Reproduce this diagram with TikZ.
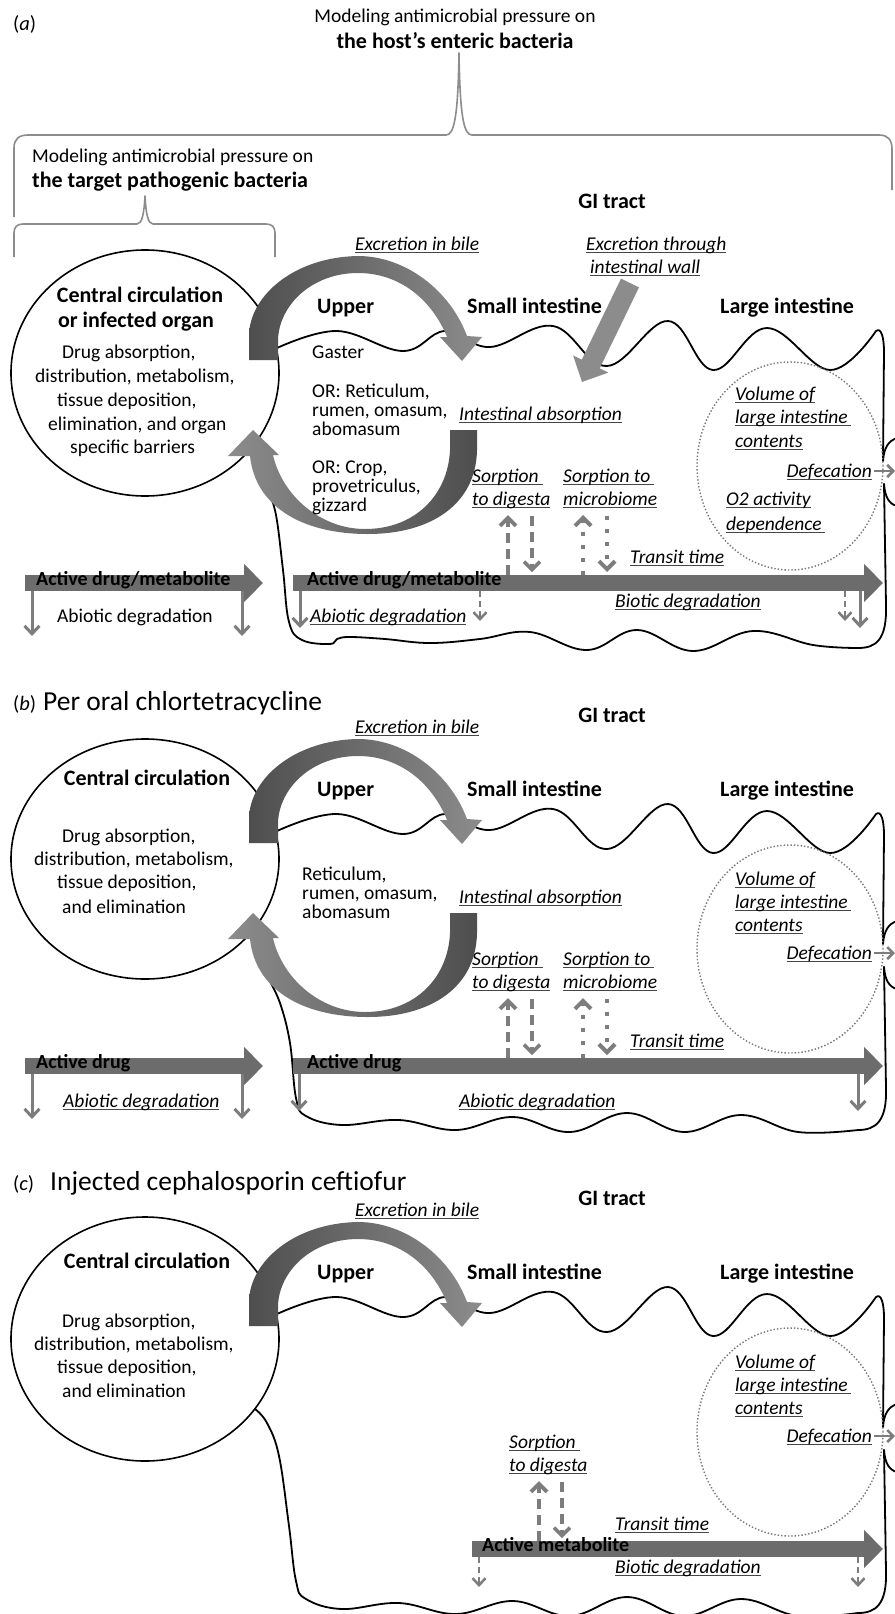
\documentclass[tikz,border=0pt]{standalone}
\usepackage{fontspec}
\setmainfont{Carlito}
\usetikzlibrary{arrows.meta}
\definecolor{bargray}{RGB}{108,108,108}
\definecolor{arrgray}{RGB}{125,125,125}
\definecolor{arcdark}{RGB}{78,78,78}
\definecolor{arclight}{RGB}{140,140,140}
\definecolor{wallgray}{RGB}{140,140,140}
\definecolor{bracegray}{RGB}{140,140,140}
\definecolor{ulgray}{RGB}{70,70,70}
\definecolor{dotgray}{RGB}{120,120,120}
\newcommand\ulx[1]{\sbox0{#1}\rlap{\textcolor{ulgray}{\rule[-3.2pt]{\wd0}{1.3pt}}}\usebox0}
\tikzset{
 lbl/.style={inner sep=0pt, anchor=base west, font=\fontsize{19.5}{23}\selectfont\itshape},
 txt/.style={inner sep=0pt, anchor=base west, font=\fontsize{19.5}{23}\selectfont},
 ctxt/.style={inner sep=0pt, anchor=base, font=\fontsize{19.5}{23}\selectfont},
 hd/.style={inner sep=0pt, anchor=base west, font=\fontsize{22}{26}\selectfont\bfseries},
 chd/.style={inner sep=0pt, anchor=base, font=\fontsize{22}{26}\selectfont\bfseries},
 tagtxt/.style={inner sep=0pt, anchor=base west, font=\fontsize{20.5}{24}\selectfont},
 ptitle/.style={inner sep=0pt, anchor=base west, font=\fontsize{27.5}{32}\selectfont},
 bartxt/.style={inner sep=0pt, anchor=base west, font=\fontsize{20}{24}\selectfont\bfseries, text=black},
 gi/.style={draw=black, line width=1.8pt, line join=round, line cap=round},
 bigbar/.style={draw=bargray, line width=16pt, -{Triangle[length=19pt,width=37pt]}},
 degsolid/.style={draw=arrgray, line width=3pt, -{Straight Barb[length=8pt,width=15pt]}},
 degdash/.style={draw=arrgray, line width=2.5pt, dash pattern=on 6pt off 4pt, -{Straight Barb[length=7pt,width=13pt]}},
 sorpdash/.style={draw=arrgray, line width=4pt, dash pattern=on 10pt off 6pt, -{Straight Barb[length=8pt,width=16pt]}},
 sorpdot/.style={draw=arrgray, line width=4pt, dash pattern=on 4pt off 9pt, -{Straight Barb[length=8pt,width=16pt]}},
 defarrow/.style={draw=arrgray, line width=2.5pt, -{Straight Barb[length=6pt,width=12pt]}},
 bracepath/.style={draw=bracegray, line width=1.6pt, line join=round},
 dotell/.style={draw=dotgray, line width=1.4pt, dash pattern=on 1.4pt off 2pt},
 circ/.style={draw=black, line width=1.6pt},
}
\newcommand\upperarc{%
 \shade[left color=arcdark, right color=arclight]
  (249,360) -- (249,335) .. controls (250,295) and (295,257) .. (358,256)
  .. controls (405,256) and (450,290) .. (467,336) -- (482,337) -- (462,361) -- (440,337) -- (447,337)
  .. controls (432,300) and (400,273) .. (358,273) .. controls (312,273) and (279,305) .. (278,340)
  -- (278,360) -- cycle;}
\newcommand\lowerarc{%
 \shade[left color=arclight, right color=arcdark]
  (477,430) -- (477,450) .. controls (476,505) and (430,534) .. (368,534)
  .. controls (300,534) and (255,505) .. (250,456) -- (228,456) -- (253,430) -- (279,455) -- (273,455)
  .. controls (282,495) and (320,529) .. (365,529) .. controls (415,529) and (448,495) .. (450,450)
  -- (450,430) -- cycle;}
\newcommand\topwave{%
 \draw[gi] plot[smooth,tension=0.65] coordinates {(277,348) (337,331) (403,351) (445,331) (490,347) (553,326) (607,366) (668,321) (713,370) (767,328) (830,370) (876,331)}
  .. controls (881,327) and (884,337) .. (884,352) -- (883,461);
 \draw[gi] (883,461) .. controls (884,448) and (888,441) .. (897,438);
 \draw[gi] (884,484) .. controls (885,497) and (889,504) .. (897,506);}
\begin{document}
\begin{tikzpicture}[x=1pt,y=-1pt]
\useasboundingbox (0,0) rectangle (894,1614);
\fill[white] (0,0) rectangle (894,1614);

% ================= panel (a) =================
\begin{scope}
\node[tagtxt] (a-tag) at (13,30) {(\textit{a})};
\node[ctxt] (a-t1) at (455,22) {Modeling antimicrobial pressure on};
\node[chd] (a-t2) at (455,48) {the host’s enteric bacteria};
\draw[bracepath] (14,217) -- (14,148) .. controls (14,139) and (19,135) .. (28,135) -- (446,135)
  .. controls (454,135) and (458,118) .. (459,53) .. controls (460,118) and (464,135) .. (472,135)
  -- (879,135) .. controls (888,135) and (892,140) .. (892,149) -- (892,190);
\node[txt] (a-t3) at (32,162) {Modeling antimicrobial pressure on};
\node[hd] (a-t4) at (32,187) {the target pathogenic bacteria};
\draw[bracepath] (14,257) -- (14,233) .. controls (14,227) and (17,224) .. (23,224) -- (137,224)
  .. controls (142,224) and (144,214) .. (145,196) .. controls (146,214) and (148,224) .. (153,224)
  -- (266,224) .. controls (272,224) and (275,227) .. (275,233) -- (275,257);
\node[chd] (a-gi) at (612,208) {GI tract};

\topwave
\draw[gi] (884,484) -- (886,605) .. controls (887,640) and (876,648) .. (858,648)
  -- plot[smooth,tension=0.65] coordinates {(858,648) (813,645) (753,631) (693,651) (637,630) (587,650) (530,632) (480,639) (430,643) (385,639) (350,637) (337,639) (330,644) (302,640) (289,622) (283,570) (276,515) (268,490)};
\draw[circ] (145,373) ellipse [x radius=134pt, y radius=123pt];
\draw[dotell] (790,466) ellipse [x radius=93pt, y radius=104pt];
\upperarc
\lowerarc
\draw[draw=wallgray, line width=20pt, -{Triangle[length=20pt,width=38pt]}] (630,283) -- (582,382);

\node[chd] (a-c1) at (140,302) {Central circulation};
\node[chd] (a-c2) at (136,327) {or infected organ};
\node[txt] (a-c3) at (62,358) {Drug absorption,};
\node[txt] (a-c4) at (35,382) {distribution, metabolism,};
\node[txt] (a-c5) at (57,406) {tissue deposition,};
\node[txt] (a-c6) at (48,430) {elimination, and organ};
\node[txt] (a-c7) at (70,453) {specific barriers};

\node[hd] (a-upper) at (317,313) {Upper};
\node[txt] (a-g1) at (312,358) {Gaster};
\node[txt] (a-g2) at (312,397) {OR: Reticulum,};
\node[txt] (a-g3) at (312,416) {rumen, omasum,};
\node[txt] (a-g4) at (312,435) {abomasum};
\node[txt] (a-g5) at (312,473) {OR: Crop,};
\node[txt] (a-g6) at (312,492) {provetriculus,};
\node[txt] (a-g7) at (312,511) {gizzard};
\node[hd] (a-small) at (467,313) {Small intestine};
\node[hd] (a-large) at (720,313) {Large intestine};

\node[lbl] (a-bile) at (355,250) {\ulx{Excretion in bile}};
\node[lbl] (a-wall1) at (586,250) {\ulx{Excretion through}};
\node[lbl] (a-wall2) at (590,273) {\ulx{intestinal wall}};
\node[lbl] (a-iabs) at (459,420) {\ulx{Intestinal absorption}};
\node[lbl] (a-vol1) at (735,400) {\ulx{Volume of}};
\node[lbl] (a-vol2) at (735,423) {\ulx{large intestine\,}};
\node[lbl] (a-vol3) at (735,447) {\ulx{contents}};
\node[lbl, anchor=base east] (a-def) at (872,477) {\ulx{Defecation}};
\draw[defarrow] (874,471) -- (895,471);
\node[lbl] (a-o2a) at (726,505) {\ulx{O2 activity}};
\node[lbl] (a-o2b) at (726,530) {\ulx{dependence\,}};
\node[lbl] (a-sd1) at (472,482) {\ulx{Sorption\ }};
\node[lbl] (a-sd2) at (472,505) {\ulx{to digesta}};
\node[lbl] (a-sm1) at (563,482) {\ulx{Sorption to\,}};
\node[lbl] (a-sm2) at (563,505) {\ulx{microbiome}};
\node[lbl] (a-transit) at (630,563) {\ulx{Transit time}};
\draw[sorpdash] (508,575) -- (508,515);
\draw[sorpdash, line width=3.5pt] (532,516) -- (532,572);
\draw[sorpdot] (583,575) -- (583,515);
\draw[sorpdot] (607,516) -- (607,572);

\draw[bigbar] (25,583) -- (263,583);
\node[bartxt] (a-bar1) at (36,585) {Active drug/metabolite};
\draw[bigbar] (293,583) -- (883,583);
\node[bartxt] (a-bar2) at (307,585) {Active drug/metabolite};
\draw[degsolid] (32,591) -- (32,636);
\draw[degsolid] (242,591) -- (242,636);
\node[txt] (a-abio1) at (57,622) {Abiotic degradation};
\draw[degsolid] (300,591) -- (300,628);
\node[lbl] (a-abio2) at (310,622) {\ulx{Abiotic degradation}};
\draw[degdash] (480,591) -- (480,621);
\node[lbl] (a-bio) at (615,607) {\ulx{Biotic degradation}};
\draw[degdash] (845,591) -- (845,621);
\draw[degsolid] (860,591) -- (860,628);
\end{scope}

% ================= panel (b) =================
\begin{scope}[shift={(0,483)}]
\node[tagtxt] (b-tag) at (13,227) {(\textit{b})};
\node[ptitle] (b-title) at (43,227) {Per oral chlortetracycline};
\node[chd] (b-gi) at (612,239) {GI tract};

\topwave
\draw[gi] (884,484) -- (886,605) .. controls (887,638) and (876,647) .. (858,647)
  -- plot[smooth,tension=0.65] coordinates {(858,647) (798,649) (741,632) (684,649) (627,630) (570,649) (513,634) (456,647) (399,637) (342,642) (306,633) (296,615) (290,560) (280,520) (268,495)};
\draw[circ] (145,376) ellipse [x radius=134pt, y radius=120pt];
\draw[dotell] (790,466) ellipse [x radius=93pt, y radius=104pt];
\upperarc
\lowerarc

\node[chd] (b-c1) at (147,302) {Central circulation};
\node[txt] (b-c3) at (62,359) {Drug absorption,};
\node[txt] (b-c4) at (34,382) {distribution, metabolism,};
\node[txt] (b-c5) at (57,405) {tissue deposition,};
\node[txt] (b-c6) at (62,430) {and elimination};

\node[hd] (b-upper) at (317,313) {Upper};
\node[txt] (b-g2) at (302,397) {Reticulum,};
\node[txt] (b-g3) at (302,416) {rumen, omasum,};
\node[txt] (b-g4) at (302,435) {abomasum};
\node[hd] (b-small) at (467,313) {Small intestine};
\node[hd] (b-large) at (720,313) {Large intestine};

\node[lbl] (b-bile) at (355,250) {\ulx{Excretion in bile}};
\node[lbl] (b-iabs) at (459,420) {\ulx{Intestinal absorption}};
\node[lbl] (b-vol1) at (735,402) {\ulx{Volume of}};
\node[lbl] (b-vol2) at (735,425) {\ulx{large intestine\,}};
\node[lbl] (b-vol3) at (735,448) {\ulx{contents}};
\node[lbl, anchor=base east] (b-def) at (872,476) {\ulx{Defecation}};
\draw[defarrow] (874,470) -- (895,470);
\node[lbl] (b-sd1) at (472,482) {\ulx{Sorption\ }};
\node[lbl] (b-sd2) at (472,505) {\ulx{to digesta}};
\node[lbl] (b-sm1) at (563,482) {\ulx{Sorption to\,}};
\node[lbl] (b-sm2) at (563,505) {\ulx{microbiome}};
\node[lbl] (b-transit) at (630,564) {\ulx{Transit time}};
\draw[sorpdash] (508,575) -- (508,515);
\draw[sorpdash, line width=3.5pt] (532,516) -- (532,572);
\draw[sorpdot] (583,575) -- (583,515);
\draw[sorpdot] (607,516) -- (607,572);

\draw[bigbar] (25,583) -- (263,583);
\node[bartxt] (b-bar1) at (36,585) {Active drug};
\draw[bigbar] (293,583) -- (883,583);
\node[bartxt] (b-bar2) at (307,585) {Active drug};
\draw[degsolid] (32,591) -- (32,636);
\draw[degsolid] (242,591) -- (242,636);
\node[lbl] (b-abio1) at (63,624) {\ulx{Abiotic degradation}};
\draw[degsolid] (299,591) -- (299,628);
\node[lbl] (b-abio2) at (459,624) {\ulx{Abiotic degradation}};
\draw[degsolid] (858,591) -- (858,628);
\end{scope}

% ================= panel (c) =================
\begin{scope}[shift={(0,966)}]
\node[tagtxt] (c-tag) at (13,224) {(\textit{c})};
\node[ptitle] (c-title) at (50,224) {Injected cephalosporin ceftiofur};
\node[chd] (c-gi) at (612,239) {GI tract};

\topwave
\draw[gi] (884,484) -- (886,605) .. controls (887,638) and (876,647) .. (858,647)
  -- plot[smooth,tension=0.65] coordinates {(858,647) (798,650) (741,633) (684,650) (627,631) (570,650) (513,635) (456,648) (399,637) (342,643) (306,633) (296,615) (289,560) (279,490) (267,457) (255,443)};
\draw[circ] (145,373) ellipse [x radius=134pt, y radius=122pt];
\draw[dotell] (790,466) ellipse [x radius=93pt, y radius=104pt];
\upperarc

\node[chd] (c-c1) at (147,302) {Central circulation};
\node[txt] (c-c3) at (62,361) {Drug absorption,};
\node[txt] (c-c4) at (34,384) {distribution, metabolism,};
\node[txt] (c-c5) at (57,407) {tissue deposition,};
\node[txt] (c-c6) at (62,431) {and elimination};

\node[hd] (c-upper) at (317,313) {Upper};
\node[hd] (c-small) at (467,313) {Small intestine};
\node[hd] (c-large) at (720,313) {Large intestine};

\node[lbl] (c-bile) at (355,250) {\ulx{Excretion in bile}};
\node[lbl] (c-vol1) at (735,402) {\ulx{Volume of}};
\node[lbl] (c-vol2) at (735,425) {\ulx{large intestine\,}};
\node[lbl] (c-vol3) at (735,448) {\ulx{contents}};
\node[lbl, anchor=base east] (c-def) at (872,476) {\ulx{Defecation}};
\draw[defarrow] (874,470) -- (895,470);
\node[lbl] (c-sd1) at (509,482) {\ulx{Sorption\ }};
\node[lbl] (c-sd2) at (509,505) {\ulx{to digesta}};
\node[lbl] (c-transit) at (615,564) {\ulx{Transit time}};
\draw[sorpdash] (539,575) -- (539,515);
\draw[sorpdash, line width=3.5pt] (562,516) -- (562,572);

\draw[bigbar] (472,583) -- (883,583);
\node[bartxt] (c-bar) at (482,585) {Active metabolite};
\draw[degdash] (479,591) -- (479,621);
\node[lbl] (c-bio) at (615,607) {\ulx{Biotic degradation}};
\draw[degdash] (858,591) -- (858,621);
\end{scope}
\end{tikzpicture}
\end{document}
